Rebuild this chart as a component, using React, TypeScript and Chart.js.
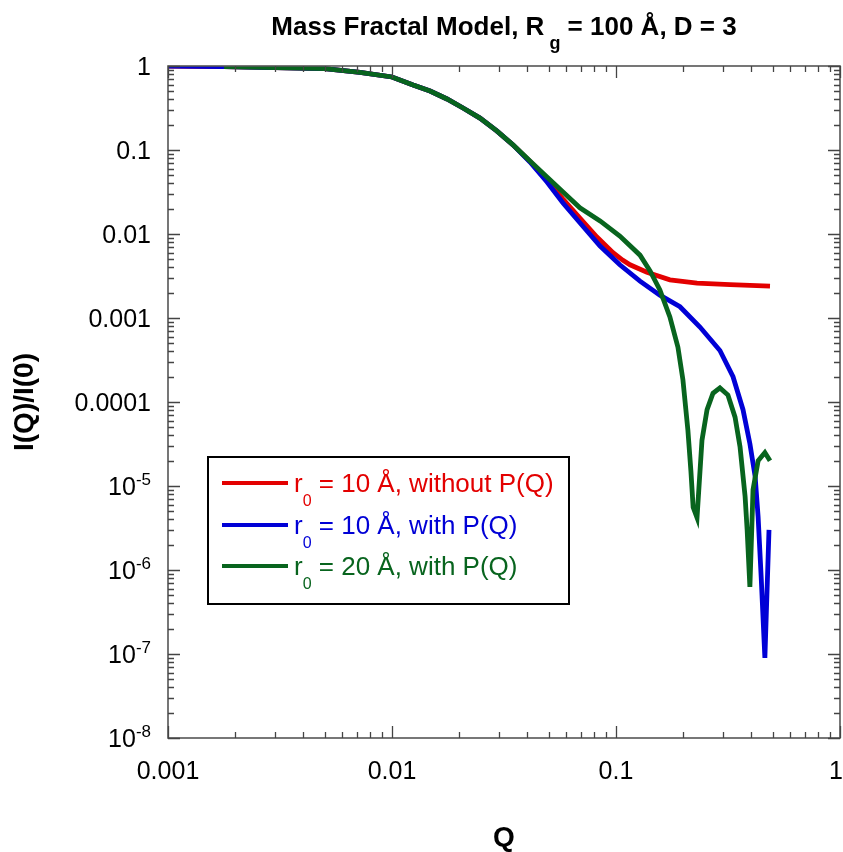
import React, { useEffect, useRef } from "react";
import { Chart, registerables } from "chart.js";
Chart.register(...registerables);

// ---- text ----
const TITLE_PARTS = ["Mass Fractal Model, R", "g", " = 100 Å, D = 3"];
const X_TITLE = "Q";
const Y_TITLE = "I(Q)/I(0)";

// ---- ticks ----
const X_TICKS = [0.001, 0.01, 0.1, 1];
const X_TICK_LABELS = ["0.001", "0.01", "0.1", "1"];
const Y_TICKS = [1, 0.1, 0.01, 0.001, 1e-4, 1e-5, 1e-6, 1e-7, 1e-8];
const Y_TICK_LABELS = ["1", "0.1", "0.01", "0.001", "0.0001", "10^-5", "10^-6", "10^-7", "10^-8"];

// ---- series ----
const SERIES_LABELS = ["r_0 = 10 Å, without P(Q)", "r_0 = 10 Å, with P(Q)", "r_0 = 20 Å, with P(Q)"];
const SERIES_COLORS = ["#e30000", "#0000d6", "#08641e"];

const qRed = [0.001, 0.00178, 0.003, 0.005, 0.0072, 0.01, 0.01242, 0.01479, 0.0176, 0.02075, 0.0247, 0.02945, 0.0347, 0.0413, 0.0492, 0.058, 0.069, 0.0822, 0.097, 0.107, 0.1155, 0.1374, 0.174, 0.23, 0.323, 0.487];
const iRed = [1.0, 0.986, 0.96, 0.93, 0.84, 0.74, 0.594, 0.504, 0.405, 0.316, 0.24, 0.168, 0.115, 0.073, 0.0438, 0.0261, 0.0155, 0.0092, 0.006, 0.0049, 0.0043, 0.0035, 0.00285, 0.0026, 0.0025, 0.0024];

const qBlue = [0.001, 0.00178, 0.003, 0.005, 0.0072, 0.01, 0.01242, 0.01479, 0.0176, 0.02075, 0.0247, 0.02945, 0.0347, 0.0413, 0.0492, 0.058, 0.069, 0.0849, 0.104, 0.128, 0.157, 0.193, 0.237, 0.291, 0.333, 0.369, 0.396, 0.418, 0.431, 0.445, 0.462, 0.482];
const iBlue = [1.0, 0.986, 0.96, 0.93, 0.84, 0.74, 0.594, 0.504, 0.405, 0.316, 0.24, 0.168, 0.115, 0.072, 0.0416, 0.0234, 0.0136, 0.0072, 0.0043, 0.00275, 0.00187, 0.00136, 0.00078, 0.00041, 0.0002, 8.1e-5, 3.2e-5, 1.3e-5, 4.3e-6, 8e-7, 9e-8, 3e-6];

const qGreen = [0.00178, 0.003, 0.005, 0.0072, 0.01, 0.01242, 0.01479, 0.0176, 0.02075, 0.0247, 0.02945, 0.0347, 0.0413, 0.0492, 0.058, 0.069, 0.0849, 0.104, 0.128, 0.1419, 0.157, 0.174, 0.189, 0.199, 0.2094, 0.216, 0.221, 0.23, 0.242, 0.255, 0.271, 0.291, 0.316, 0.34, 0.358, 0.377, 0.385, 0.396, 0.409, 0.431, 0.462, 0.487];
const iGreen = [0.986, 0.96, 0.93, 0.84, 0.74, 0.594, 0.504, 0.405, 0.316, 0.24, 0.168, 0.115, 0.074, 0.0477, 0.0316, 0.0205, 0.0143, 0.00947, 0.0056, 0.00363, 0.00216, 0.00103, 0.00045, 0.000183, 4.6e-5, 1.5e-5, 5.6e-6, 4.2e-6, 3.5e-5, 8.1e-5, 1.27e-4, 1.47e-4, 1.21e-4, 6.6e-5, 2.9e-5, 7.5e-6, 3e-6, 6.3e-7, 9e-6, 2e-5, 2.5e-5, 2e-5];

const FONT = '"Liberation Sans", Arial, Helvetica, sans-serif';

type Part = { t: string; size: number; bold?: boolean; dy: number };

function parseRich(s: string, size: number, bold: boolean): Part[] {
  const parts: Part[] = [];
  const re = /(\^|_)(-?\w+)/g;
  let last = 0;
  let m: RegExpExecArray | null;
  while ((m = re.exec(s))) {
    if (m.index > last) parts.push({ t: s.slice(last, m.index), size, bold, dy: 0 });
    const sup = m[1] === "^";
    parts.push({
      t: m[2],
      size: Math.round(size * (sup ? 0.68 : 0.6)),
      bold,
      dy: sup ? -size * 0.42 : size * 0.52,
    });
    last = m.index + m[0].length;
  }
  if (last < s.length) parts.push({ t: s.slice(last), size, bold, dy: 0 });
  return parts;
}

function fontOf(p: Part) {
  return `${p.bold ? "bold " : ""}${p.size}px ${FONT}`;
}

function richWidth(ctx: CanvasRenderingContext2D, parts: Part[]) {
  let w = 0;
  for (const p of parts) {
    ctx.font = fontOf(p);
    w += ctx.measureText(p.t).width;
  }
  return w;
}

function drawRich(ctx: CanvasRenderingContext2D, parts: Part[], x: number, y: number, color: string) {
  ctx.fillStyle = color;
  ctx.textBaseline = "alphabetic";
  ctx.textAlign = "left";
  let cx = x;
  for (const p of parts) {
    ctx.font = fontOf(p);
    ctx.fillText(p.t, cx, y + p.dy);
    cx += ctx.measureText(p.t).width;
  }
}

const framePlugin = {
  id: "framePlugin",
  afterDraw(chart: any) {
    const ctx: CanvasRenderingContext2D = chart.ctx;
    const { left, right, top, bottom } = chart.chartArea;
    const xs = chart.scales.x;
    const ys = chart.scales.y;
    ctx.save();
    // frame
    ctx.strokeStyle = "#555";
    ctx.lineWidth = 1.6;
    ctx.strokeRect(left, top, right - left, bottom - top);

    // ticks
    ctx.strokeStyle = "#444";
    ctx.lineWidth = 1.3;
    ctx.beginPath();
    for (let d = -3; d <= 0; d++) {
      for (let m = 1; m <= 9; m++) {
        const v = m * Math.pow(10, d);
        if (v < 0.001 - 1e-12 || v > 1 + 1e-9) continue;
        const px = Math.round(xs.getPixelForValue(v)) + 0.5;
        const len = m === 1 ? 12 : 6;
        ctx.moveTo(px, bottom);
        ctx.lineTo(px, bottom - len);
        ctx.moveTo(px, top);
        ctx.lineTo(px, top + len);
      }
    }
    for (let d = -8; d <= 0; d++) {
      for (let m = 1; m <= 9; m++) {
        const v = m * Math.pow(10, d);
        if (v < 1e-8 * 0.999 || v > 1.0001) continue;
        const py = Math.round(ys.getPixelForValue(v)) + 0.5;
        const len = m === 1 ? 12 : 6;
        ctx.moveTo(left, py);
        ctx.lineTo(left + len, py);
        ctx.moveTo(right, py);
        ctx.lineTo(right - len, py);
      }
    }
    ctx.stroke();

    // x tick labels
    X_TICKS.forEach((v, i) => {
      const px = xs.getPixelForValue(v);
      const parts = parseRich(X_TICK_LABELS[i], 25, false);
      const w = richWidth(ctx, parts);
      let x0 = px - w / 2;
      if (x0 + w > 843) x0 = 843 - w;
      drawRich(ctx, parts, x0, 779, "#000");
    });
    // y tick labels
    Y_TICKS.forEach((v, i) => {
      const py = ys.getPixelForValue(v);
      const parts = parseRich(Y_TICK_LABELS[i], 25, false);
      const w = richWidth(ctx, parts);
      drawRich(ctx, parts, 151 - w, py + 9, "#000");
    });

    // title
    const tParts: Part[] = [
      { t: TITLE_PARTS[0], size: 26, bold: true, dy: 0 },
      { t: " " + TITLE_PARTS[1], size: 18, bold: true, dy: 14 },
      { t: TITLE_PARTS[2], size: 26, bold: true, dy: 0 },
    ];
    const tw = richWidth(ctx, tParts);
    drawRich(ctx, tParts, (left + right) / 2 - tw / 2, 35, "#000");

    // x title
    ctx.font = `bold 28px ${FONT}`;
    ctx.fillStyle = "#000";
    ctx.textAlign = "center";
    ctx.textBaseline = "alphabetic";
    ctx.fillText(X_TITLE, (left + right) / 2, 846);

    // y title
    ctx.save();
    ctx.translate(33, (top + bottom) / 2);
    ctx.rotate(-Math.PI / 2);
    ctx.textAlign = "center";
    ctx.fillText(Y_TITLE, 0, 0);
    ctx.restore();

    // legend
    const bx = 208, by = 457, bw = 361, bh = 147;
    ctx.fillStyle = "#fff";
    ctx.fillRect(bx, by, bw, bh);
    ctx.strokeStyle = "#000";
    ctx.lineWidth = 2;
    ctx.strokeRect(bx, by, bw, bh);
    const rows = [483, 525, 566];
    SERIES_LABELS.forEach((lab, i) => {
      const y = rows[i];
      ctx.strokeStyle = SERIES_COLORS[i];
      ctx.lineWidth = 4;
      ctx.beginPath();
      ctx.moveTo(222, y);
      ctx.lineTo(288, y);
      ctx.stroke();
      const parts = parseRich(lab, 26, false);
      drawRich(ctx, parts, 294, y + 9, SERIES_COLORS[i]);
    });
    ctx.restore();
  },
};

export default function App() {
  const ref = useRef<HTMLCanvasElement | null>(null);
  useEffect(() => {
    if (!ref.current) return;
    const mk = (q: number[], v: number[]) => q.map((x, i) => ({ x, y: v[i] }));
    const chart = new Chart(ref.current, {
      type: "line",
      data: {
        datasets: [
          { label: SERIES_LABELS[0], data: mk(qRed, iRed), borderColor: SERIES_COLORS[0], order: 3 },
          { label: SERIES_LABELS[1], data: mk(qBlue, iBlue), borderColor: SERIES_COLORS[1], order: 2 },
          { label: SERIES_LABELS[2], data: mk(qGreen, iGreen), borderColor: SERIES_COLORS[2], order: 1 },
        ],
      },
      options: {
        animation: false,
        responsive: false,
        layout: { padding: { top: 66, right: 3, left: 0, bottom: 0 } },
        plugins: { legend: { display: false }, title: { display: false }, tooltip: { enabled: false } },
        elements: { point: { radius: 0 }, line: { borderWidth: 4.8, tension: 0, fill: false } },
        scales: {
          x: {
            type: "logarithmic", min: 0.001, max: 1,
            grid: { display: false }, border: { display: false }, ticks: { display: false },
            afterFit: (s: any) => { s.height = 114; },
          },
          y: {
            type: "logarithmic", min: 1e-8, max: 1,
            grid: { display: false }, border: { display: false }, ticks: { display: false },
            afterFit: (s: any) => { s.width = 168; },
          },
        },
      } as any,
      plugins: [framePlugin],
    });
    return () => chart.destroy();
  }, []);
  return (
    <div style={{ position: "absolute", left: 0, top: 0, width: 843, height: 852, background: "#fff" }}>
      <canvas ref={ref} width={843} height={852} style={{ display: "block" }} />
    </div>
  );
}
